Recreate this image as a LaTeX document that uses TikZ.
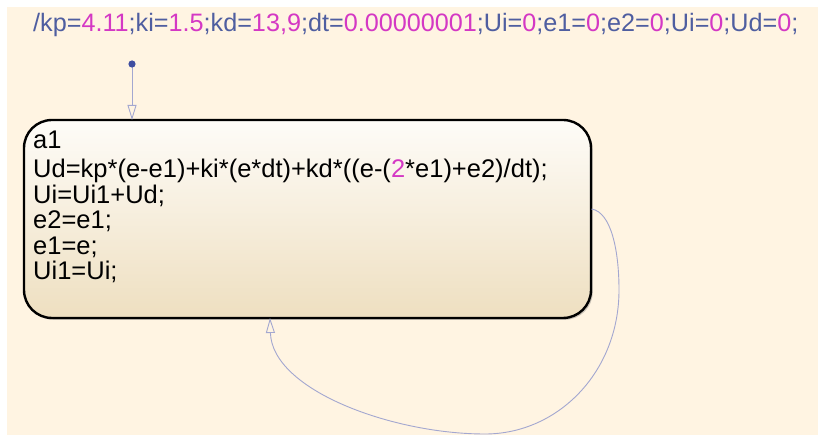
\documentclass[tikz,border=0pt]{standalone}
\usepackage{fontspec}
\setmainfont{Liberation Sans}
\usetikzlibrary{arrows.meta,shadows}
\definecolor{cream}{HTML}{FFF4E2}
\definecolor{codeblue}{HTML}{4F5EA0}
\definecolor{numpink}{HTML}{D438C4}
\definecolor{trans}{HTML}{A3A7D0}
\definecolor{dotblue}{HTML}{3F4EA0}
\definecolor{boxtop}{HTML}{FEFCF8}
\definecolor{boxbot}{HTML}{EEDFC0}
\tikzset{
  codefont/.style={font=\fontsize{25.2}{24.7}\selectfont, inner sep=0pt},
  boxfont/.style={font=\fontsize{25.5}{24.7}\selectfont, inner sep=0pt},
  codeline/.style={boxfont, anchor=base west, text=black},
  statebox/.style={draw=black, line width=2.4pt, rounded corners=28pt,
    minimum width=567pt, minimum height=198pt, inner sep=0pt,
    top color=boxtop, bottom color=boxbot,
    drop shadow={shadow xshift=1.8pt, shadow yshift=-1.8pt, opacity=0.35, fill=black!60}},
  transline/.style={draw=trans, line width=0.9pt,
    -{Triangle[open, length=15pt, width=9pt, line width=0.9pt]}},
}
\newcommand{\nm}[1]{\textcolor{numpink}{#1}}
\begin{document}
\begin{tikzpicture}[x=1pt,y=-1pt]
\useasboundingbox (0,0) rectangle (819,435);
\fill[white] (0,0) rectangle (819,435);
\fill[cream] (7,7) rectangle (818,435);
% top label
\node[codefont, anchor=base west, text=codeblue] (label) at (33,32)
  {/kp=\nm{4.11};ki=\nm{1.5};kd=\nm{13,9};dt=\nm{0.00000001};Ui=\nm{0};e1=\nm{0};e2=\nm{0};Ui=\nm{0};Ud=\nm{0};};
% state box
\node[statebox] (a1) at (307.5,219) {};
\node[codeline] (t1) at (33,148.5) {a1};
\node[codeline] (t2) at (33,178) {Ud=kp*(e-e1)+ki*(e*dt)+kd*((e-(\nm{2}*e1)+e2)/dt);};
\node[codeline] (t3) at (33,203.5) {Ui=Ui1+Ud;};
\node[codeline] (t4) at (33,229) {e2=e1;};
\node[codeline] (t5) at (33,254.5) {e1=e;};
\node[codeline] (t6) at (33,280) {Ui1=Ui;};
% default transition
\coordinate (dot) at (132,64);
\coordinate (entry) at (132,120);
\draw[transline] (dot) -- (entry);
\fill[dotblue] (dot) circle (3.6pt);
% self loop
\coordinate (loopstart) at (591.5,209);
\coordinate (loopright) at (619,290);
\coordinate (loopbottom) at (485,434);
\coordinate (loopend) at (270,318);
\draw[transline] (loopstart) .. controls (611,212) and (619,250) .. (loopright)
  .. controls (619,372) and (558,434) .. (loopbottom)
  .. controls (392,434) and (272,390) .. (loopend);
\end{tikzpicture}
\end{document}
